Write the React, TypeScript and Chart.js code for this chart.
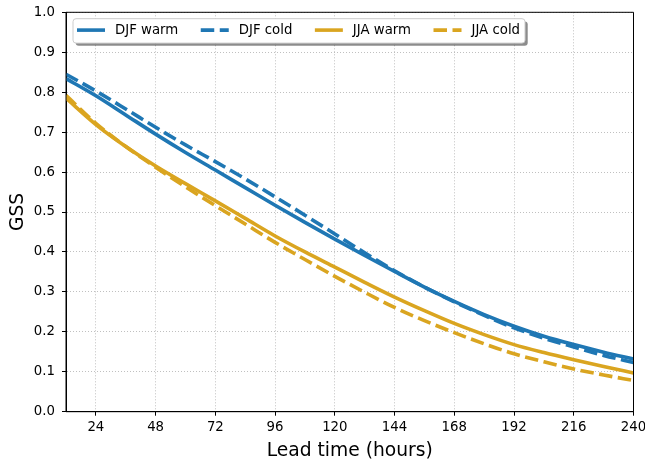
import React, { useEffect, useRef } from "react";
import { Chart, registerables } from "chart.js";

Chart.register(...registerables);

// ---- data ----
const hours = [12, 24, 36, 48, 60, 72, 84, 96, 108, 120, 132, 144, 156, 168, 180, 192, 204, 216, 228, 240];
const djfWarm = [0.834, 0.791, 0.743, 0.695, 0.649, 0.605, 0.561, 0.517, 0.474, 0.432, 0.391, 0.351, 0.312, 0.276, 0.243, 0.214, 0.189, 0.168, 0.149, 0.132];
const djfCold = [0.845, 0.803, 0.758, 0.712, 0.668, 0.626, 0.583, 0.538, 0.492, 0.445, 0.398, 0.353, 0.312, 0.275, 0.241, 0.21, 0.184, 0.162, 0.141, 0.123];
const jjaWarm = [0.785, 0.719, 0.664, 0.615, 0.571, 0.528, 0.484, 0.44, 0.4, 0.362, 0.324, 0.287, 0.253, 0.221, 0.193, 0.168, 0.148, 0.13, 0.113, 0.097];
const jjaCold = [0.792, 0.722, 0.664, 0.612, 0.563, 0.516, 0.47, 0.424, 0.381, 0.339, 0.299, 0.261, 0.228, 0.198, 0.17, 0.145, 0.125, 0.107, 0.092, 0.078];
const seriesNames = ["DJF warm", "DJF cold", "JJA warm", "JJA cold"];
const xTicks = [24, 48, 72, 96, 120, 144, 168, 192, 216, 240];
const yTicks = [0, 0.1, 0.2, 0.3, 0.4, 0.5, 0.6, 0.7, 0.8, 0.9, 1.0];
const xTitle = "Lead time (hours)";
const yTitle = "GSS";

const BLUE = "#1f77b4";
const GOLD = "#daa520";
const FONT = "'DejaVu Sans', sans-serif";

const framePlugin = {
  id: "frame",
  afterDraw(chart: any) {
    const { ctx, chartArea } = chart;
    const { left, right, top, bottom } = chartArea;
    ctx.save();
    ctx.strokeStyle = "#000";
    ctx.lineWidth = 1;
    ctx.beginPath();
    ctx.moveTo(left, top);
    ctx.lineTo(right, top);
    ctx.moveTo(right, top);
    ctx.lineTo(right, bottom);
    ctx.moveTo(left, bottom);
    ctx.lineTo(right, bottom);
    ctx.moveTo(left, top);
    ctx.lineTo(left, bottom);
    ctx.stroke();
    ctx.restore();

    // legend (matplotlib style)
    ctx.save();
    ctx.font = `13.3px ${FONT}`;
    const x0 = left + 7;
    const y0 = top + 6.4;
    const h = 24.4;
    const padL = 4;
    const sampleLen = 28;
    const textGap = 10;
    const colGap = 22.5;
    const padR = 5;
    const widths = chart.data.datasets.map((ds: any) => ctx.measureText(ds.label).width);
    let w = padL + padR + colGap * (widths.length - 1);
    widths.forEach((tw: number) => (w += sampleLen + textGap + tw));
    // shadow
    ctx.fillStyle = "rgba(0,0,0,0.45)";
    ctx.beginPath();
    ctx.roundRect(x0 + 2.7, y0 + 2.7, w, h, 3);
    ctx.fill();
    ctx.fillStyle = "#ffffff";
    ctx.strokeStyle = "#cccccc";
    ctx.lineWidth = 1;
    ctx.beginPath();
    ctx.roundRect(x0, y0, w, h, 3);
    ctx.fill();
    ctx.stroke();
    let x = x0 + padL;
    const cy = y0 + h / 2 - 0.8;
    chart.data.datasets.forEach((ds: any, i: number) => {
      ctx.save();
      ctx.strokeStyle = ds.borderColor;
      ctx.lineWidth = ds.borderWidth;
      ctx.lineCap = "butt";
      ctx.setLineDash(ds.borderDash || []);
      ctx.beginPath();
      ctx.moveTo(x, cy);
      ctx.lineTo(x + sampleLen, cy);
      ctx.stroke();
      ctx.restore();
      ctx.fillStyle = "#000";
      ctx.textBaseline = "middle";
      ctx.textAlign = "left";
      ctx.fillText(ds.label, x + sampleLen + textGap, cy + 0.8);
      x += sampleLen + textGap + widths[i] + colGap;
    });
    ctx.restore();
  },
};

export default function App() {
  const ref = useRef<HTMLCanvasElement>(null);
  useEffect(() => {
    if (!ref.current) return;
    const mk = (vals: number[]) => hours.map((hh, i) => ({ x: hh, y: vals[i] }));
    const ds = (label: string, vals: number[], color: string, dashed: boolean) => ({
      label,
      data: mk(vals),
      borderColor: color,
      backgroundColor: color,
      borderWidth: 3.6,
      borderDash: dashed ? [13.5, 5.5] : [],
      borderCapStyle: "butt",
      pointRadius: 0,
      cubicInterpolationMode: "monotone",
      fill: false,
      clip: 0,
    });
    const chart = new Chart(ref.current, {
      type: "line",
      data: {
        datasets: [
          ds(seriesNames[0], djfWarm, BLUE, false),
          ds(seriesNames[1], djfCold, BLUE, true),
          ds(seriesNames[2], jjaWarm, GOLD, false),
          ds(seriesNames[3], jjaCold, GOLD, true),
        ],
      },
      options: {
        responsive: false,
        animation: false,
        devicePixelRatio: 1,
        layout: { padding: { left: 0, right: 11.5, top: 12.3, bottom: 0 } },
        plugins: { legend: { display: false }, tooltip: { enabled: false } },
        scales: {
          x: {
            type: "linear",
            min: 12,
            max: 240,
            afterBuildTicks: (s: any) => {
              s.ticks = xTicks.map((v) => ({ value: v }));
            },
            afterFit: (s: any) => {
              s.height = 50.3;
              s.paddingLeft = 0;
              s.paddingRight = 0;
            },
            ticks: {
              color: "#000",
              font: { family: FONT, size: 13.3 },
              padding: 4,
              maxRotation: 0,
              autoSkip: false,
              callback: (v: any) => String(v),
            },
            grid: { color: "#b0b0b0", lineWidth: 0.8, tickColor: "#000", tickLength: 4, tickWidth: 1 },
            border: { display: true, color: "#000", width: 1, dash: [1, 2] },
            title: {
              display: true,
              text: xTitle,
              color: "#000",
              font: { family: FONT, size: 18.7 },
              padding: { top: 0, bottom: 0 },
            },
          },
          y: {
            type: "linear",
            min: 0,
            max: 1,
            afterBuildTicks: (s: any) => {
              s.ticks = yTicks.map((v) => ({ value: v }));
            },
            afterFit: (s: any) => {
              s.width = 66;
              s.paddingTop = 0;
              s.paddingBottom = 0;
            },
            ticks: {
              color: "#000",
              font: { family: FONT, size: 13.3 },
              padding: 7,
              callback: (v: any) => Number(v).toFixed(1),
            },
            grid: { color: "#b0b0b0", lineWidth: 0.8, tickColor: "#000", tickLength: 4, tickWidth: 1 },
            border: { display: true, color: "#000", width: 1, dash: [1, 2] },
            title: {
              display: true,
              text: yTitle,
              color: "#000",
              font: { family: FONT, size: 18.7 },
              padding: { top: 7, bottom: 0 },
            },
          },
        },
      },
      plugins: [framePlugin],
    } as any);
    return () => chart.destroy();
  }, []);
  return (
    <div style={{ position: "fixed", left: 0, top: 0, width: 645, height: 462, background: "#fff" }}>
      <canvas ref={ref} width={645} height={462} style={{ width: 645, height: 462, display: "block" }} />
    </div>
  );
}
